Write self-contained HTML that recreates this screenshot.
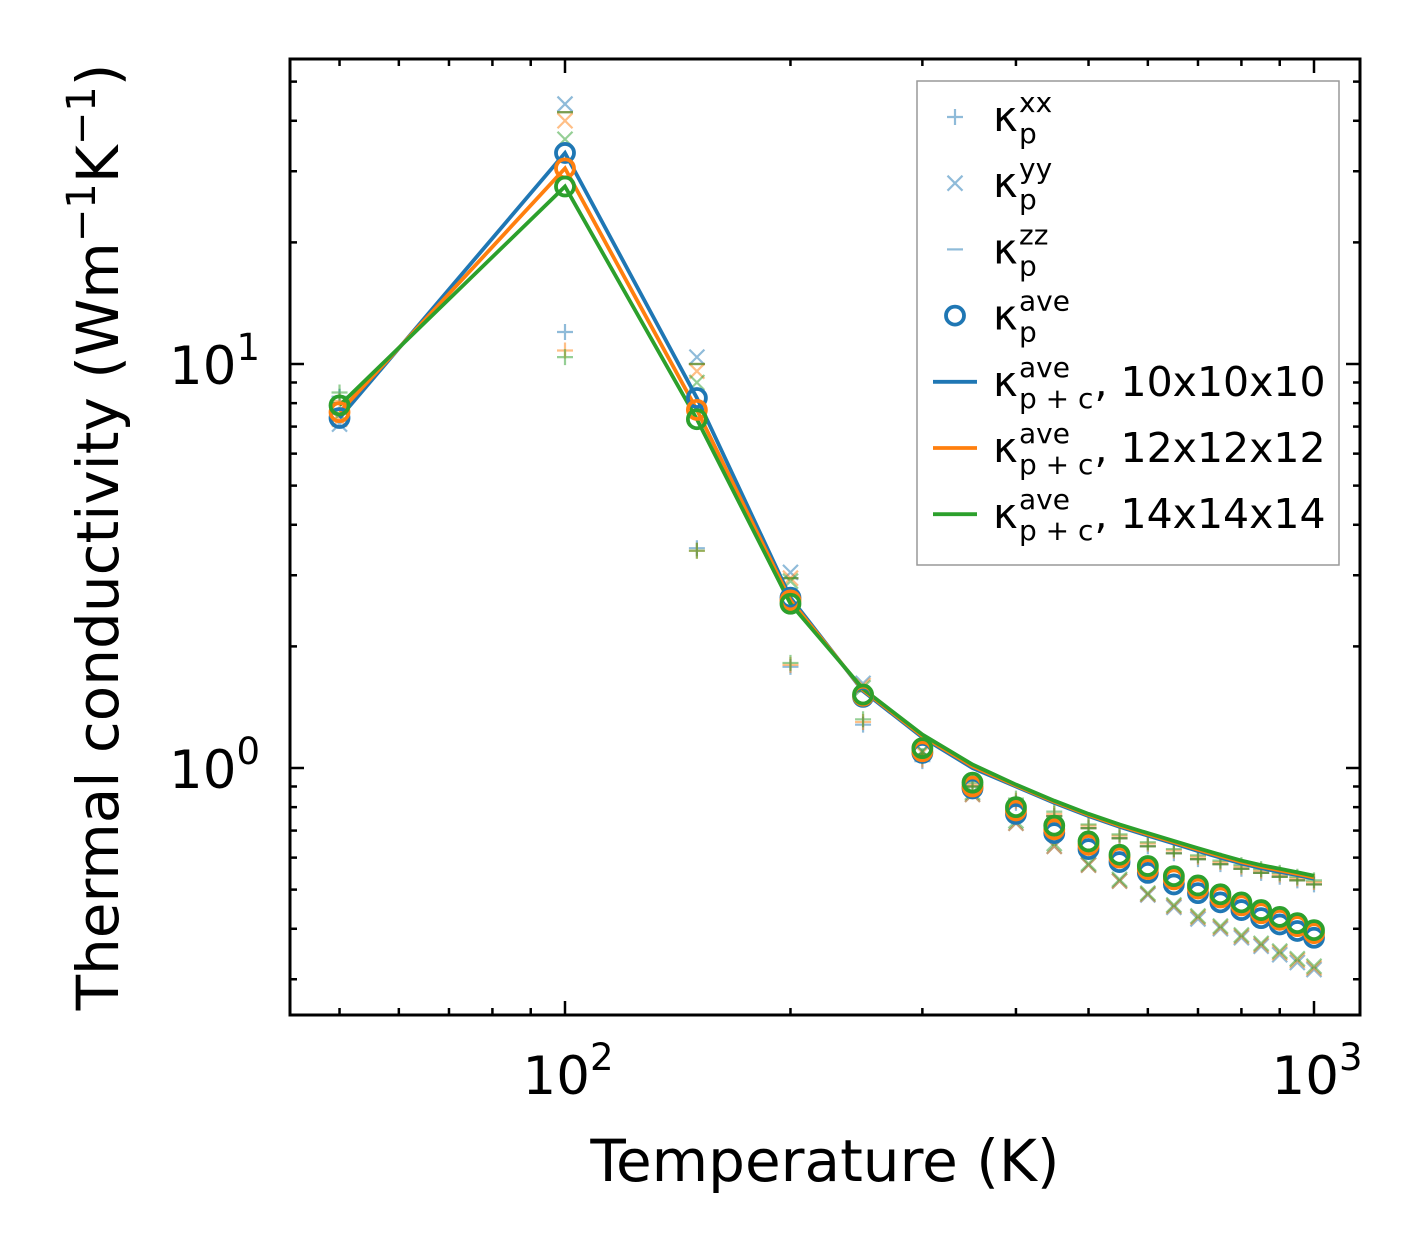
<!DOCTYPE html>
<html><head><meta charset="utf-8"><style>
body{margin:0;background:#fff}
svg{display:block;font-family:"DejaVu Sans","Liberation Sans",sans-serif}
</style></head><body>
<svg id="chart" width="1421" height="1254" viewBox="0 0 1421 1254">
<g id="plot"></g>
<g id="axes"></g>
<g id="legend"></g>
</svg>
<script>
const temps=[50,100,150,200,250,300,350,400,450,500,550,600,650,700,750,800,850,900,950,1000];
const aveBlue=[7.35,33.3,8.24,2.64,1.5,1.09,0.89,0.77,0.69,0.63,0.585,0.55,0.515,0.49,0.465,0.445,0.425,0.41,0.395,0.38];
const aveOrange=[7.6,30.5,7.7,2.6,1.51,1.1,0.9,0.785,0.705,0.645,0.6,0.562,0.53,0.503,0.478,0.457,0.437,0.421,0.406,0.39];
const aveGreen=[7.9,27.5,7.3,2.55,1.52,1.12,0.92,0.8,0.72,0.658,0.61,0.572,0.54,0.512,0.487,0.465,0.445,0.428,0.413,0.397];
const lineBlue=[7.35,33.3,8.24,2.64,1.55,1.19,1.0,0.9,0.82,0.76,0.715,0.68,0.65,0.623,0.6,0.58,0.565,0.553,0.543,0.532];
const lineOrange=[7.6,30.5,7.7,2.6,1.56,1.2,1.01,0.905,0.825,0.765,0.72,0.685,0.655,0.628,0.605,0.585,0.57,0.558,0.547,0.536];
const lineGreen=[7.9,27.5,7.3,2.55,1.57,1.21,1.02,0.91,0.83,0.77,0.725,0.69,0.66,0.633,0.61,0.59,0.575,0.563,0.552,0.541];
const kxx=[8.3,12.0,3.5,1.78,1.28,1.04,0.9,0.82,0.76,0.71,0.67,0.64,0.615,0.595,0.578,0.563,0.55,0.538,0.527,0.515];
const kyy=[7.1,44,10.4,3.05,1.62,1.1,0.86,0.73,0.64,0.575,0.525,0.485,0.452,0.423,0.4,0.38,0.362,0.345,0.33,0.317];
const kzz=[8.0,42,10.0,2.95,1.55,1.08,0.9,0.82,0.76,0.71,0.67,0.64,0.615,0.595,0.578,0.563,0.55,0.538,0.527,0.515];
const kxxO=[8.1,10.8,3.45,1.8,1.3,1.05,0.91,0.83,0.77,0.72,0.68,0.65,0.625,0.603,0.585,0.57,0.557,0.545,0.533,0.522];
const kyyO=[7.3,40,9.6,2.95,1.6,1.09,0.86,0.73,0.64,0.575,0.525,0.487,0.455,0.427,0.403,0.383,0.365,0.349,0.334,0.32];
const kxxG=[8.5,10.4,3.45,1.82,1.32,1.07,0.92,0.84,0.78,0.725,0.685,0.655,0.63,0.608,0.59,0.575,0.562,0.55,0.538,0.527];
const kyyG=[7.5,36,9.0,2.9,1.58,1.1,0.87,0.74,0.65,0.58,0.53,0.49,0.458,0.43,0.406,0.386,0.368,0.352,0.337,0.323];
const xTickVals=[100,1000];
const xTickExp=["2","3"];
const yTickVals=[1,10];
const yTickExp=["0","1"];

const NS="http://www.w3.org/2000/svg";
const L=290,R=1360,T=59,B=1015;
const xs=v=>565+749*Math.log10(v/100);
const ys=v=>768-404*Math.log10(v);
function mk(tag,attrs,parent){const e=document.createElementNS(NS,tag);for(const k in attrs)e.setAttribute(k,attrs[k]);parent.appendChild(e);return e;}
const plot=document.getElementById('plot'),axes=document.getElementById('axes'),leg=document.getElementById('legend');
const C={b:'#1f77b4',o:'#ff7f0e',g:'#2ca02c'};
const cp=mk('clipPath',{id:'clip'},plot);
mk('rect',{x:L,y:T,width:R-L,height:B-T},cp);
plot.setAttribute('clip-path','url(#clip)');

function plus(x,y,c,g,s){mk('path',{d:`M${x-s} ${y}H${x+s}M${x} ${y-s}V${y+s}`,stroke:c,'stroke-width':2.2,'stroke-opacity':0.5,fill:'none'},g);}
function cross(x,y,c,g,s){mk('path',{d:`M${x-s} ${y-s}L${x+s} ${y+s}M${x-s} ${y+s}L${x+s} ${y-s}`,stroke:c,'stroke-width':2.2,'stroke-opacity':0.5,fill:'none'},g);}
function hl(x,y,c,g,s){mk('path',{d:`M${x-s} ${y}H${x+s}`,stroke:c,'stroke-width':2.2,'stroke-opacity':0.5},g);}

const sets=[[C.b,kxx,kyy,kzz,aveBlue,lineBlue,'10x10x10'],[C.o,kxxO,kyyO,kzz,aveOrange,lineOrange,'12x12x12'],[C.g,kxxG,kyyG,kzz,aveGreen,lineGreen,'14x14x14']];
sets.forEach((s,si)=>{
  const g=mk('g',{},plot);
  
  
  temps.forEach((t,i)=>{plus(xs(t),ys(s[1][i]),s[0],g,8);cross(xs(t),ys(s[2][i]),s[0],g,7.5);hl(xs(t),ys(s[3][i]),s[0],g,8);});
});
sets.forEach(s=>{
  const p=mk('path',{d:temps.map((t,i)=>(i?'L':'M')+xs(t)+' '+ys(s[5][i])).join(''),stroke:s[0],'stroke-width':3.8,fill:'none'},plot);
  
  
});
sets.forEach(s=>{
  const g=mk('g',{},plot);
  
  
  temps.forEach((t,i)=>mk('circle',{cx:xs(t),cy:ys(s[4][i]),r:9,fill:'none',stroke:s[0],'stroke-width':3.8},g));
});

const fr=mk('rect',{x:L,y:T,width:R-L,height:B-T,fill:'none',stroke:'#000','stroke-width':3},axes);


for(let d=10;d<=1000;d*=10)for(let m=1;m<10;m++){const v=d*m,x=xs(v);if(x<L||x>R)continue;const len=m===1?14:7;
  mk('line',{x1:x,x2:x,y1:B,y2:B-len,stroke:'#000','stroke-width':2.5},axes);mk('line',{x1:x,x2:x,y1:T,y2:T+len,stroke:'#000','stroke-width':2.5},axes);}
for(let d=0.1;d<=100;d*=10)for(let m=1;m<10;m++){const v=d*m,y=ys(v);if(y<T||y>B)continue;const len=m===1?14:7;
  mk('line',{x1:L,x2:L+len,y1:y,y2:y,stroke:'#000','stroke-width':2.5},axes);mk('line',{x1:R,x2:R-len,y1:y,y2:y,stroke:'#000','stroke-width':2.5},axes);}
xTickVals.forEach((v,i)=>{const t=mk('text',{x:xs(v)+3,y:1094,'font-size':53,'text-anchor':'middle'},axes);
  
  t.innerHTML=`10<tspan dy="-24" font-size="37">${xTickExp[i]}</tspan>`;});
yTickVals.forEach((v,i)=>{const t=mk('text',{x:260,y:ys(v)+20,'font-size':53,'text-anchor':'end'},axes);
  
  t.innerHTML=`10<tspan dy="-24" font-size="37">${yTickExp[i]}</tspan>`;});
const xt=mk('text',{x:825,y:1181,'font-size':58,'text-anchor':'middle'},axes);xt.textContent='Temperature (K)';

const yt=mk('text',{transform:'translate(118,537) rotate(-90)','font-size':58,'text-anchor':'middle'},axes);
yt.innerHTML='Thermal conductivity (Wm<tspan dy="-23" font-size="40">−1</tspan><tspan dy="23">K</tspan><tspan dy="-23" font-size="40">−1</tspan><tspan dy="23">)</tspan>';


const lb=mk('rect',{x:917,y:81,width:422,height:484,fill:'#fff',stroke:'#999','stroke-width':1.5},leg);

const rows=[['plus','xx','p',''],['cross','yy','p',''],['hl','zz','p',''],['circ','ave','p',''],['line0','ave','p + c',', 10x10x10'],['line1','ave','p + c',', 12x12x12'],['line2','ave','p + c',', 14x14x14']];
rows.forEach((r,i)=>{const y=117+i*66.2;const g=mk('g',{},leg);
  
  const hx=955;
  if(r[0]==='plus')plus(hx,y,C.b,g,8);else if(r[0]==='cross')cross(hx,y,C.b,g,7.5);else if(r[0]==='hl')hl(hx,y,C.b,g,8);
  else if(r[0]==='circ')mk('circle',{cx:hx,cy:y,r:9,fill:'none',stroke:C.b,'stroke-width':3.8},g);
  else{const c=[C.b,C.o,C.g][+r[0][4]];mk('line',{x1:933,x2:977,y1:y,y2:y,stroke:c,'stroke-width':3.8},g);}
  const t1=mk('text',{x:993,y:y+14,'font-size':42},g);t1.textContent='κ';
  const t2=mk('text',{x:1019,y:y-5,'font-size':28},g);t2.textContent=r[1];
  const t3=mk('text',{x:1019,y:y+26,'font-size':28},g);t3.textContent=r[2];
  if(r[3]){const w=Math.max(t2.getComputedTextLength(),t3.getComputedTextLength());
    const t4=mk('text',{x:1019+w+1,y:y+14,'font-size':41},g);t4.textContent=r[3];}
});
</script>
</body></html>
